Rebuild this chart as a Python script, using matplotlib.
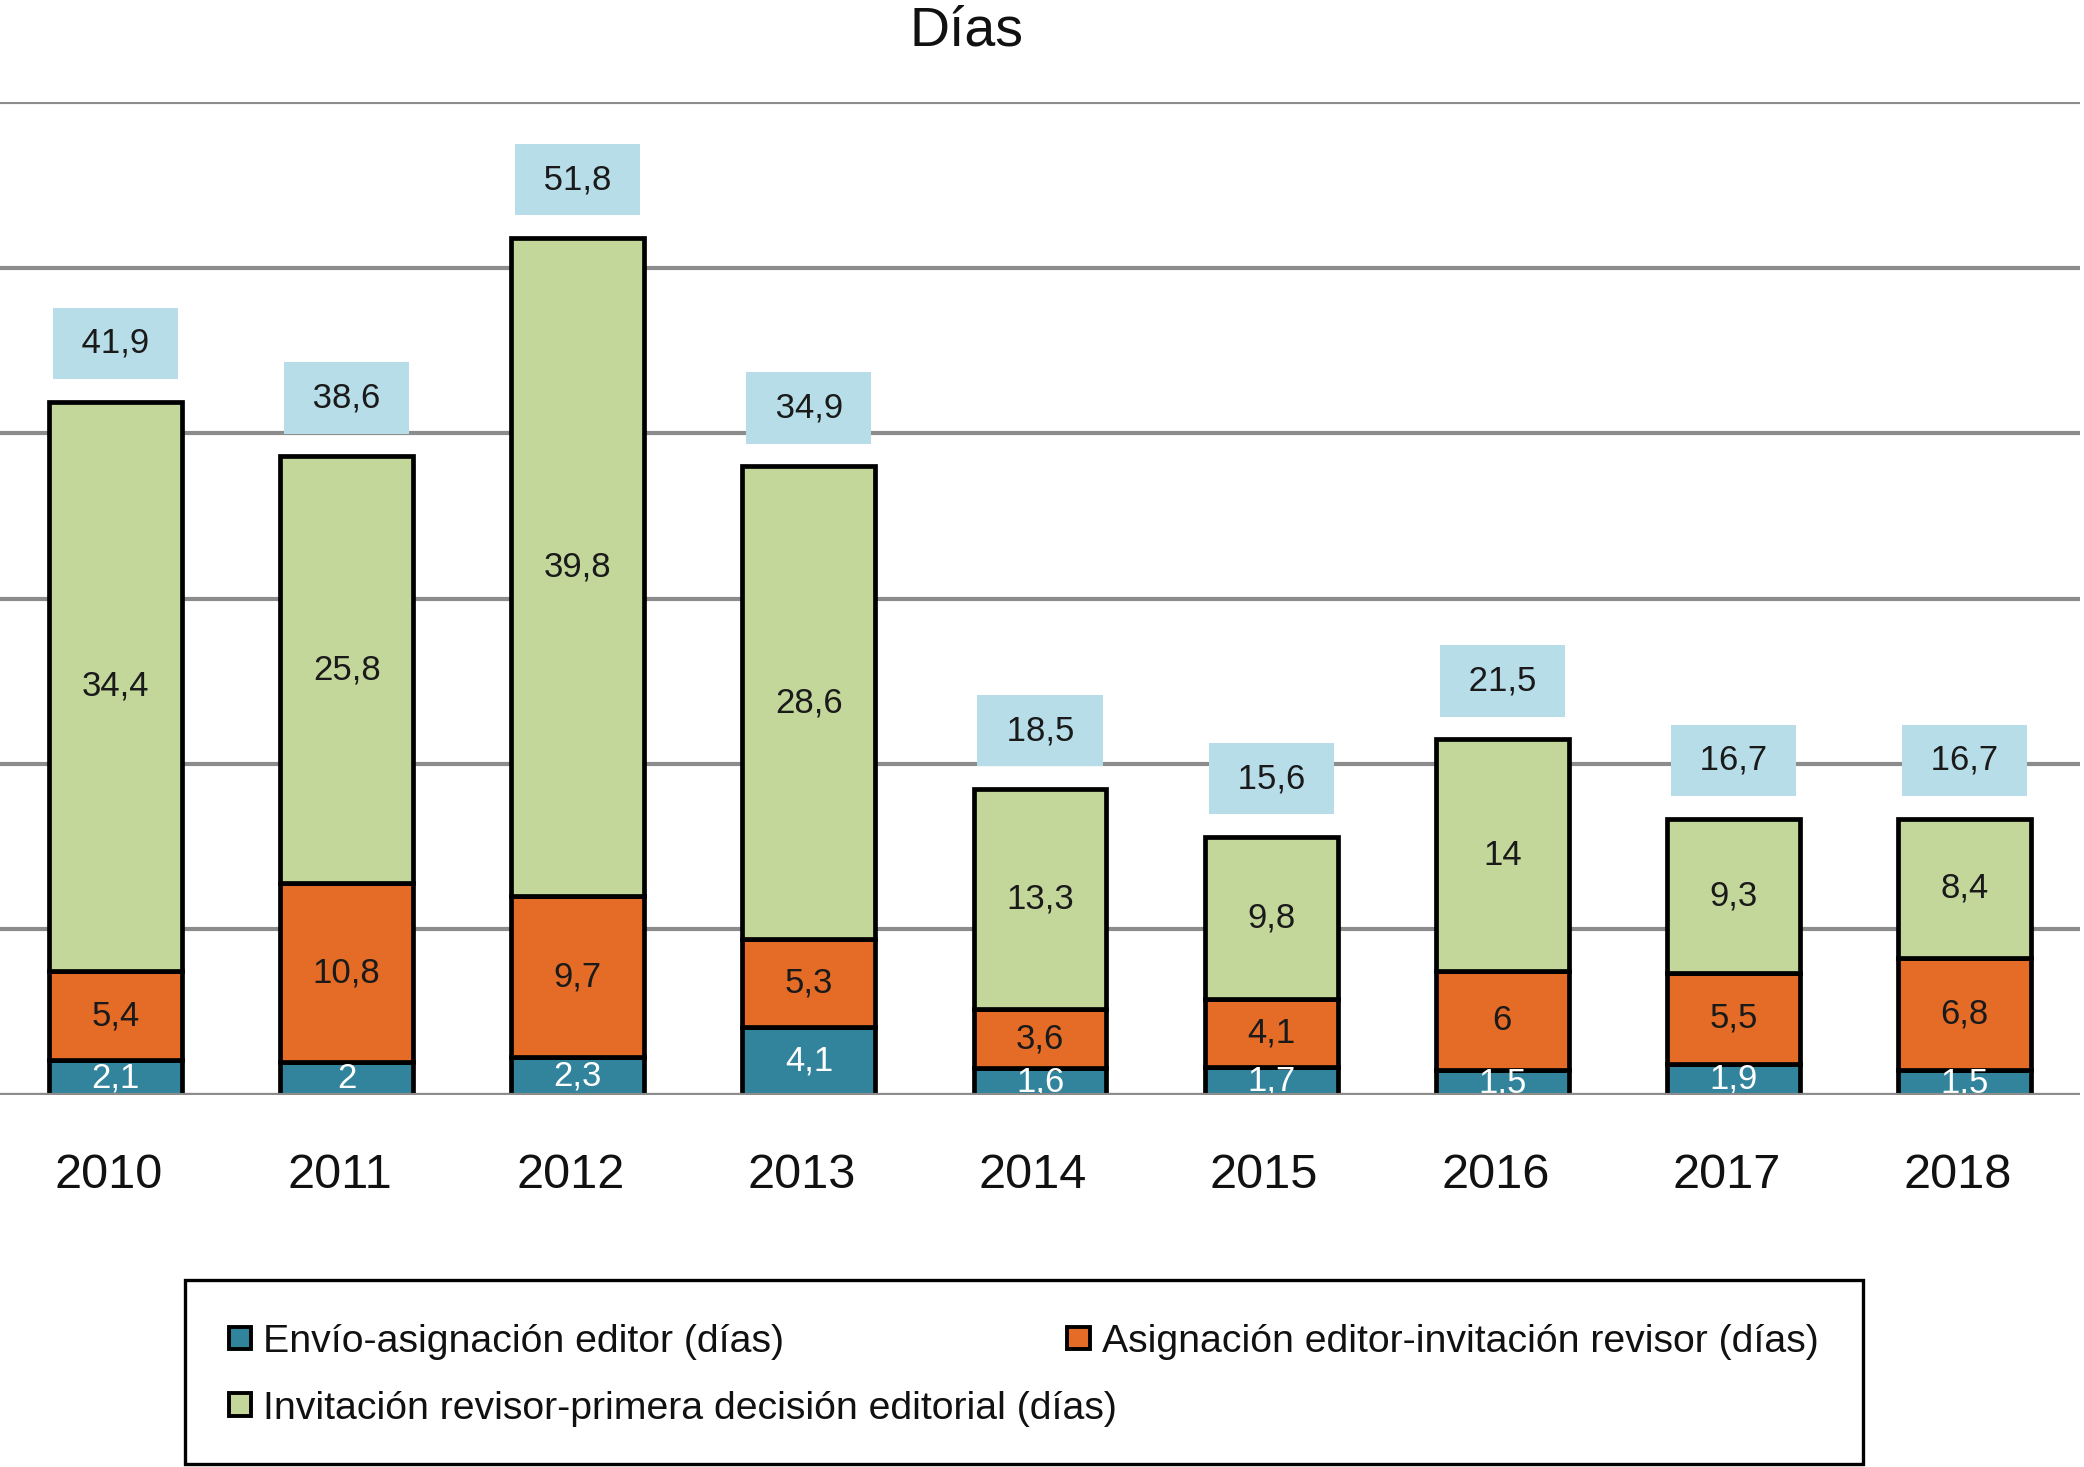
import matplotlib
matplotlib.use("Agg")
import matplotlib.pyplot as plt
from matplotlib.patches import Rectangle
import matplotlib.transforms as mtransforms
import numpy as np

plt.rcParams['font.family'] = ['Liberation Sans', 'DejaVu Sans']

years = ['2010', '2011', '2012', '2013', '2014', '2015', '2016', '2017', '2018']
envio = [2.1, 2.0, 2.3, 4.1, 1.6, 1.7, 1.5, 1.9, 1.5]
asignacion = [5.4, 10.8, 9.7, 5.3, 3.6, 4.1, 6.0, 5.5, 6.8]
invitacion = [34.4, 25.8, 39.8, 28.6, 13.3, 9.8, 14.0, 9.3, 8.4]
totales = [41.9, 38.6, 51.8, 34.9, 18.5, 15.6, 21.5, 16.7, 16.7]
series_names = ['Envío-asignación editor (días)',
                'Asignación editor-invitación revisor (días)',
                'Invitación revisor-primera decisión editorial (días)']

c_blue = '#31849b'
c_orange = '#e46c27'
c_green = '#c4d79b'
c_box = '#b7dde8'
c_grid = '#8c8c8c'

W, H = 1568.0, 1104.0  # layout reference units
def fx(x):
    return x / W
def fy(y):
    return 1 - y / H

fig = plt.figure(figsize=(20.84, 14.67), dpi=100)
ax = fig.add_axes([0, fy(824), fx(1565), (824 - 77) / H])

x = np.arange(len(years))
e = np.array(envio)
a = np.array(asignacion)
g = np.array(invitacion)
bw = 0.575

b1 = ax.bar(x, e, bw, color=c_blue, edgecolor='black', linewidth=3.4, zorder=3)
b2 = ax.bar(x, a, bw, bottom=e, color=c_orange, edgecolor='black', linewidth=3.4, zorder=3)
b3 = ax.bar(x, g, bw, bottom=e + a, color=c_green, edgecolor='black', linewidth=3.4, zorder=3)

def fmt(v):
    return f"{v:g}".replace('.', ',')

for i in range(len(years)):
    ax.text(x[i], e[i] / 2, fmt(e[i]), ha='center', va='center', fontsize=25,
            color='white', zorder=4)
    ax.text(x[i], e[i] + a[i] / 2, fmt(a[i]), ha='center', va='center', fontsize=25,
            color='#1a1a1a', zorder=4)
    ax.text(x[i], e[i] + a[i] + g[i] / 2, fmt(g[i]), ha='center', va='center', fontsize=25,
            color='#1a1a1a', zorder=4)
    top = e[i] + a[i] + g[i]
    ax.annotate(' ' + fmt(totales[i]) + ' ', (x[i], top), xytext=(0, 42),
                textcoords='offset points',
                ha='center', va='center', fontsize=25, color='#1a1a1a', zorder=4,
                bbox=dict(boxstyle='square,pad=0.55', facecolor=c_box, edgecolor='none'))

ax.set_xlim(-0.5, 8.5)
ax.set_ylim(0, 60)
ax.set_yticks(np.arange(0, 61, 10))
ax.set_yticklabels([])
ax.yaxis.grid(True, color=c_grid, linewidth=3.0)
ax.set_axisbelow(True)
ax.axhline(0, color=c_grid, linewidth=3.0, zorder=5)
ax.set_xticks(x)
ax.set_xticklabels(years, fontsize=35, color='#111111')
ax.tick_params(axis='both', length=0)
ax.tick_params(axis='x', pad=42)
shift = mtransforms.ScaledTranslation(-5 / 72, 0, fig.dpi_scale_trans)
for lab in ax.get_xticklabels():
    lab.set_transform(lab.get_transform() + shift)
for s in ax.spines.values():
    s.set_visible(False)
ax.patch.set_visible(False)

fig.text(fx(727), fy(24), 'Días', ha='center', va='center', fontsize=40, color='#111111')

# Legend (Excel-style flowing layout)
fig.add_artist(Rectangle((fx(139), fy(1102)), fx(1402) - fx(139), fy(963) - fy(1102),
                         transform=fig.transFigure, facecolor='white', edgecolor='black',
                         linewidth=2.4))
items = [(c_blue, series_names[0], 172, 1007),
         (c_orange, series_names[1], 803, 1007),
         (c_green, series_names[2], 172, 1057)]
sq = 17
for col, name, mx, my in items:
    fig.add_artist(Rectangle((fx(mx), fy(my + sq / 2)), sq / W, sq / H,
                             transform=fig.transFigure, facecolor=col, edgecolor='black',
                             linewidth=2.8))
    fig.text(fx(mx + 26), fy(my + 3), name, ha='left', va='center', fontsize=28.3,
             color='#111111')

fig.savefig('out.png', dpi=100)
